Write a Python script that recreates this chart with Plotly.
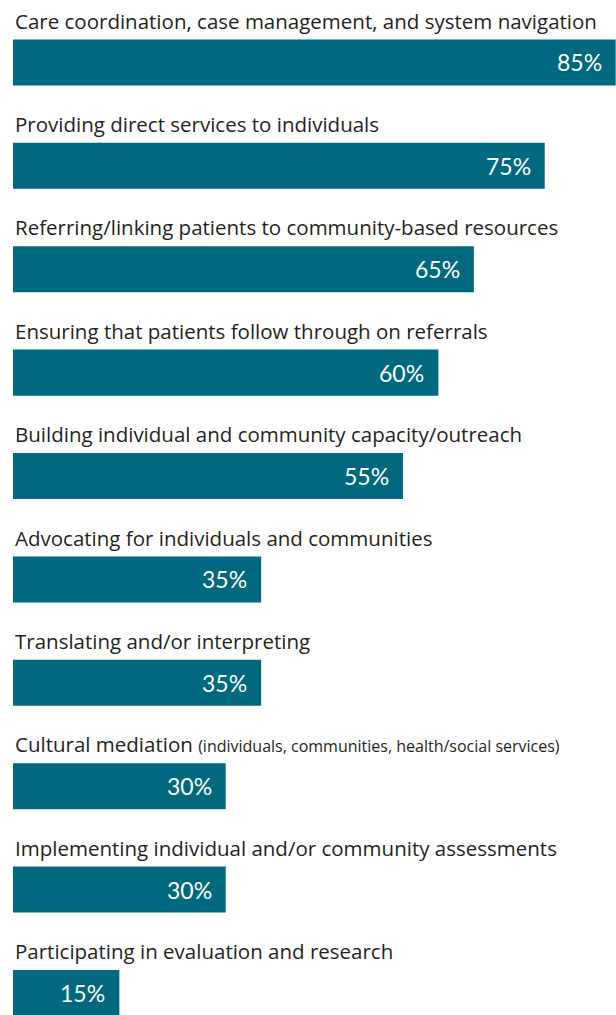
import plotly.graph_objects as go

categories = [
    "Care coordination, case management, and system navigation",
    "Providing direct services to individuals",
    "Referring/linking patients to community-based resources",
    "Ensuring that patients follow through on referrals",
    "Building individual and community capacity/outreach",
    "Advocating for individuals and communities",
    "Translating and/or interpreting",
    "Cultural mediation",
    "Implementing individual and/or community assessments",
    "Participating in evaluation and research",
]
notes = ["", "", "", "", "", "", "", "(individuals, communities, health/social services)", "", ""]
values = [85, 75, 65, 60, 55, 35, 35, 30, 30, 15]

BAR = "#00687F"
INK = "#231F20"
LABEL_FONT = "'Open Sans', Lato, sans-serif"
VALUE_FONT = "Lato, 'Open Sans', sans-serif"

pos = list(range(len(categories)))

fig = go.Figure(
    go.Bar(
        x=values,
        y=pos,
        orientation="h",
        width=0.445,
        marker=dict(color=BAR, line=dict(width=0)),
        hoverinfo="skip",
    )
)

annotations = []
for i, (cat, note, v) in enumerate(zip(categories, notes, values)):
    label = cat if not note else f"{cat} <span style='font-size:16px'>{note}</span>"
    annotations.append(dict(
        x=0, y=i - 0.405, xref="x", yref="y", text=label, showarrow=False,
        xanchor="left", yanchor="middle", xshift=0,
        font=dict(family=LABEL_FONT, size=20.5, color=INK),
    ))
    annotations.append(dict(
        x=v, y=i, xref="x", yref="y", text=f"{v}%", showarrow=False,
        xanchor="right", yanchor="middle", xshift=-12,
        font=dict(family=VALUE_FONT, size=23, color="white"),
    ))

fig.update_layout(
    width=616, height=1015,
    margin=dict(l=13, r=0, t=0, b=0),
    paper_bgcolor="white", plot_bgcolor="white",
    showlegend=False,
    xaxis=dict(range=[0, 85.05], visible=False, fixedrange=True),
    yaxis=dict(range=[9.213, -0.604], visible=False, fixedrange=True),
    annotations=annotations,
)

fig.write_html("out.html")
